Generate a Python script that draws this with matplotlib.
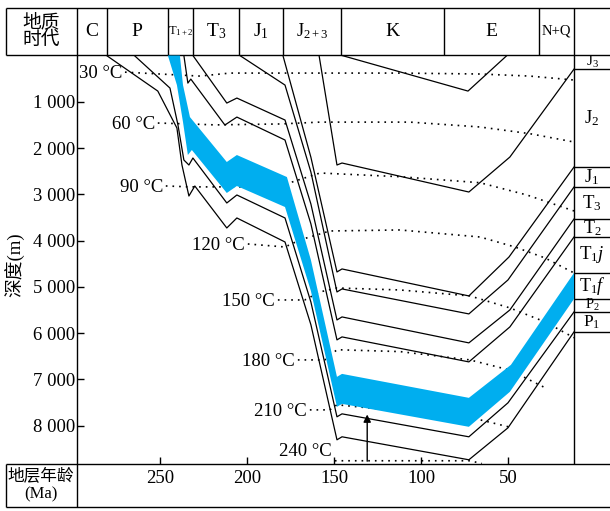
import numpy as np
import matplotlib.pyplot as plt
import matplotlib.transforms as mtransforms

plt.rcParams['font.family'] = ['Liberation Serif', 'Noto Sans CJK SC']
plt.rcParams['mathtext.fontset'] = 'custom'
plt.rcParams['mathtext.rm'] = 'Liberation Serif'
plt.rcParams['mathtext.it'] = 'Liberation Serif:italic'

# burial curves: age (Ma) and depth (m) of the base of each unit
p1_age = [281, 251.5, 240.5, 237.6, 233.6, 230.2, 211.8, 206, 178.3, 163.4, 148.4, 145.5, 72.5, 50, 12]
p1_dep = [0, 769, 1568, 2367, 3037, 2821, 3728, 3512, 4031, 5820, 8307, 8242, 8739, 8048, 5975]
p2_age = [265, 244.5, 239.9, 236.5, 233.6, 231.3, 211.8, 206, 178.3, 163.4, 148.4, 145.5, 72.5, 50, 12]
p2_dep = [0, 704, 1503, 2259, 2367, 2216, 3188, 3015, 3512, 5330, 7810, 7746, 8242, 7508, 5543]
t1f_age = [245.7, 240.5, 237, 234.2, 231.9, 211.8, 206, 178.3, 163.4, 148.4, 145.5, 72.5, 48.9, 12]
t1f_dep = [0, 639, 1439, 2151, 2043, 2972, 2821, 3275, 5090, 7594, 7530, 8026, 7270, 5262]
t1j_age = [238.8, 237, 233, 211.8, 206, 177.2, 163.4, 148.4, 145.5, 72.5, 48.3, 12]
t1j_dep = [0, 639, 1331, 2302, 2151, 2627, 4420, 6946, 6882, 7400, 6687, 4701]
t2_age = [236.5, 234.2, 232.5, 212.9, 206, 178.3, 163.4, 148.4, 145.5, 72.5, 48.9, 12]
t2_dep = [0, 596, 510, 1503, 1331, 1827, 3640, 6147, 6083, 6623, 5867, 3923]
t3_age = [231.3, 211.8, 206, 178.3, 163.4, 148.4, 145.5, 72.5, 48.9, 12]
t3_dep = [0, 1028, 920, 1395, 3210, 5716, 5651, 6212, 5500, 3534]
j1_age = [204.3, 178.3, 163.4, 148.4, 145.5, 72.5, 50, 12]
j1_dep = [0, 639, 2520, 5111, 5046, 5586, 4852, 2843]
j2_age = [179.5, 163.4, 148.4, 145.5, 72.5, 49.4, 12]
j2_dep = [0, 2200, 4679, 4614, 5197, 4355, 2411]
j3_age = [158.7, 148.4, 145.5, 72.5, 48.9, 12]
j3_dep = [0, 2367, 2324, 2951, 2195, 294]
k_age = [145.5, 73, 50.6]
k_dep = [0, 769, 0]

# isotherms
iso_labels = ['30 °C', '60 °C', '90 °C', '120 °C', '150 °C', '180 °C', '210 °C', '240 °C']
iso_ages = [
    [270.4, 238.8, 227.3, 210, 169.7, 112.2, 66.1, 37.4, 12],
    [251.5, 233, 218.6, 181.2, 158.2, 106.4, 66.1, 37.4, 12],
    [246.9, 233, 204.3, 181.2, 158.2, 112.2, 66.1, 39.1, 12],
    [199.7, 178.3, 169.7, 152.5, 112.2, 66.1, 46, 28.7, 12],
    [182.4, 166.9, 158.2, 148.4, 112.2, 71.9, 48.9, 28.7, 12],
    [170.9, 155.4, 148.4, 112.2, 71.9, 48.9, 28.7],
    [164, 152.5, 148.4, 71.9, 66.1, 47.1],
    [149.6, 71.9, 65],
]
iso_deps = [
    [360, 423, 445, 380, 380, 380, 400, 445, 530],
    [1460, 1480, 1500, 1480, 1440, 1440, 1545, 1690, 1870],
    [2820, 2840, 2840, 2820, 2540, 2620, 2750, 3015, 3360],
    [4074, 4139, 3987, 3793, 3771, 3923, 4139, 4376, 4700],
    [5284, 5284, 5111, 5025, 5068, 5197, 5456, 5758, 6100],
    [6580, 6580, 6360, 6400, 6580, 6800, 7180],
    [7660, 7660, 7550, 7830, 7875, 8050],
    [8760, 8760, 8820],
]

# header: geological periods
period_bounds = [281, 245.7, 231.3, 204.5, 179.5, 146, 87, 32]
period_labels = ['C', 'P', r'$\mathrm{T}_{1+2}$', r'$\mathrm{T}_3$', r'$\mathrm{J}_1$',
                 r'$\mathrm{J}_{2+3}$', 'K', 'E', 'N+Q']
period_sizes = [14, 14, 9, 14, 14, 13, 14, 14, 10.5]

# right column: present-day strata
strata_labels = [r'$\mathrm{J}_3$', r'$\mathrm{J}_2$', r'$\mathrm{J}_1$', r'$\mathrm{T}_3$', r'$\mathrm{T}_2$',
                 r'$\mathrm{T}_1\mathit{j}$', r'$\mathrm{T}_1\mathit{f}$', r'$\mathrm{P}_2$', r'$\mathrm{P}_1$']
strata_sizes = [11, 13.5, 13.5, 13.5, 13, 13.5, 13, 10.5, 12.5]

depth_ticks = [1000, 2000, 3000, 4000, 5000, 6000, 7000, 8000]
depth_tick_labels = ['1 000', '2 000', '3 000', '4 000', '5 000', '6 000', '7 000', '8 000']
age_ticks = [250, 200, 150, 100, 50]

arrow_age = 131
arrow_top = 7700

blue = '#00AEEF'
W, H = 610, 511
AGE_MAX, AGE_MIN = 298, 12
DEP_MAX = 8830

fig = plt.figure(figsize=(W / 100, H / 100), dpi=100)
fr = fig.add_axes([0, 0, 1, 1])
fr.set_xlim(0, W)
fr.set_ylim(H, 0)
fr.axis('off')

ax = fig.add_axes([77 / W, 1 - 464 / H, (574 - 77) / W, (464 - 55.5) / H])
ax.set_xlim(AGE_MAX, AGE_MIN)
ax.set_ylim(DEP_MAX, 0)
ax.patch.set_visible(False)
for s in ax.spines.values():
    s.set_visible(False)

# isotherms (under the blue layer)
for lab, a, d in zip(iso_labels, iso_ages, iso_deps):
    ax.plot(a, d, color='black', lw=1.2, ls=(0, (1, 3)), zorder=1)
    dy = 6.5 if lab == '240 °C' else -1
    ax.annotate(lab, xy=(a[0], d[0]), xytext=(-2, dy), textcoords='offset points',
                ha='right', va='center', fontsize=13.5)

# T1f layer
ax.fill(np.concatenate([t1f_age, t1j_age[::-1]]), np.concatenate([t1f_dep, t1j_dep[::-1]]),
        color=blue, lw=0, zorder=2)

for a, d in [(p1_age, p1_dep), (p2_age, p2_dep), (t2_age, t2_dep), (t3_age, t3_dep),
             (j1_age, j1_dep), (j2_age, j2_dep), (j3_age, j3_dep), (k_age, k_dep)]:
    ax.plot(a, d, color='black', lw=0.9, zorder=3)

ax.annotate('', xy=(arrow_age, arrow_top), xytext=(arrow_age, DEP_MAX),
            arrowprops=dict(arrowstyle='-|>', color='black', lw=1.0, mutation_scale=11), zorder=4)

ax.set_yticks(depth_ticks, labels=depth_tick_labels)
ax.set_xticks(age_ticks)
ax.tick_params(axis='y', direction='in', length=5, width=1, labelsize=13.5, pad=1.5, left=True, right=False)
ax.tick_params(axis='x', direction='in', length=5, width=1, labelsize=13.5, pad=4, bottom=True, top=False)

# table frame
lk = dict(color='black', lw=1.0, solid_capstyle='butt')
fr.plot([6, W], [8, 8], **lk)
fr.plot([6, W], [55.5, 55.5], **lk)
fr.plot([6, W], [464, 464], **lk)
fr.plot([6, W], [507, 507], **lk)
fr.plot([6, 6], [8, 55.5], **lk)
fr.plot([6, 6], [464, 507], **lk)
fr.plot([77, 77], [8, 507], **lk)
fr.plot([574, 574], [8, 464], **lk)

# header cells
hdr = mtransforms.blended_transform_factory(ax.transData, fr.transData)
for b in period_bounds:
    fr.plot([b, b], [8, 55.5], transform=hdr, **lk)
edges = [AGE_MAX] + period_bounds + [AGE_MIN]
for i, lab in enumerate(period_labels):
    fr.text((edges[i] + edges[i + 1]) / 2, 31, lab, transform=hdr, ha='center', va='center',
            fontsize=period_sizes[i])
fr.text(41, 31, '地质\n时代', ha='center', va='center', fontsize=13.5, linespacing=1.0)
fr.text(41, 486, '地层年龄\n(Ma)', ha='center', va='center', fontsize=12, linespacing=1.1)
fr.text(15, 265, '深度(m)', rotation=90, ha='center', va='center', fontsize=13.5)

# strata column
col = mtransforms.blended_transform_factory(fr.transData, ax.transData)
strata_bounds = [j3_dep[-1], j2_dep[-1], j1_dep[-1], t3_dep[-1], t2_dep[-1],
                 t1j_dep[-1], t1f_dep[-1], p2_dep[-1], p1_dep[-1]]
for b in strata_bounds:
    fr.plot([574, W], [b, b], transform=col, **lk)
tops = [0] + strata_bounds[:-1]
for i, lab in enumerate(strata_labels):
    fr.text(592, (tops[i] + strata_bounds[i]) / 2, lab, transform=col, ha='center', va='center',
            fontsize=strata_sizes[i])

fig.savefig('out.png', dpi=100)
